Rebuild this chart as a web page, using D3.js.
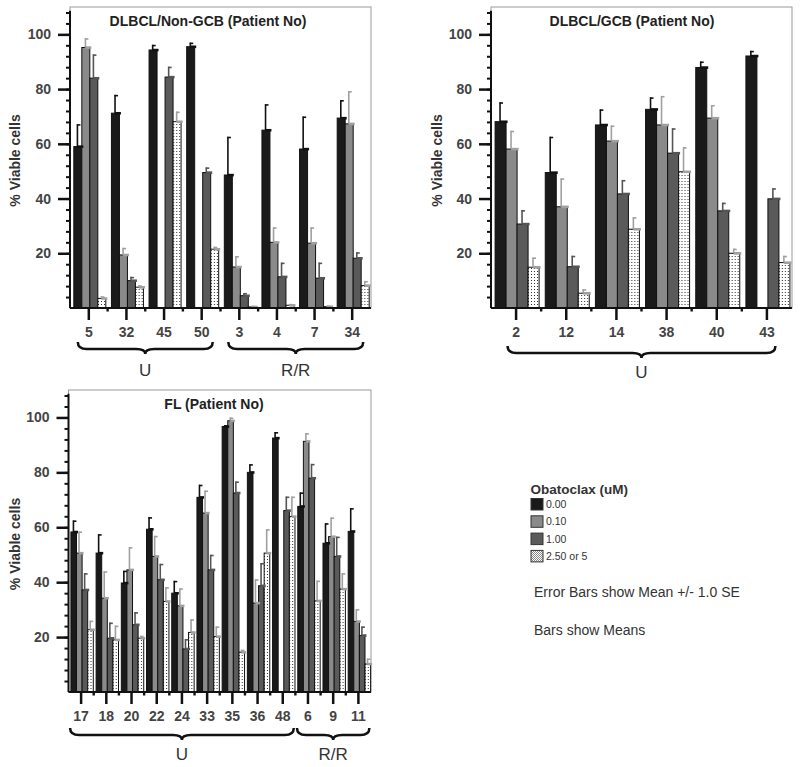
<!DOCTYPE html>
<html><head><meta charset="utf-8">
<script src="https://cdn.jsdelivr.net/npm/d3@7"></script>
<style>body{margin:0;background:#fff}svg text{font-family:"Liberation Sans",Arial,Helvetica,sans-serif}</style>
</head><body><svg id="c" width="800" height="767"></svg>
<script>
// ---------- DATA ----------
const seriesNames = ["0.00", "0.10", "1.00", "2.50 or 5"];
const yTickValues = [20, 40, 60, 80, 100];

// Panel 1: DLBCL/Non-GCB
const p1Categories = ["5", "32", "45", "50", "3", "4", "7", "34"];
const p1Mean = [
  [59, 95.2, 84, 3.5],
  [71.2, 19.4, 10, 7.6],
  [94.3, null, 84.4, 68.1],
  [95.5, null, 49.5, 21.5],
  [48.6, 15, 4.5, 0.4],
  [65, 24, 11.4, 1],
  [58.1, 23.7, 10.9, 0.5],
  [69.4, 67.3, 18.2, 8.2]
];
const p1Upper = [
  [67.2, 98.6, 92.7, 4.3],
  [77.9, 22, 11.4, 8.3],
  [96.2, null, 88.2, 71.8],
  [97, null, 51.4, 22.4],
  [62.6, 19, 5.5, 0.8],
  [74.5, 29.5, 16.6, 1.5],
  [70, 29.5, 16.6, 0.9],
  [76, 79.3, 20.4, 9.9]
];
const p1Groups = [["U", "5", "50"], ["R/R", "3", "34"]];

// Panel 2: DLBCL/GCB
const p2Categories = ["2", "12", "14", "38", "40", "43"];
const p2Mean = [
  [68.1, 58.1, 30.7, 14.9],
  [49.5, 37, 15.1, 5.4],
  [66.9, 61, 41.7, 28.8],
  [72.6, 66.9, 56.6, 49.8],
  [87.9, 69.4, 35.5, 20],
  [92.1, null, 39.9, 16.6]
];
const p2Upper = [
  [75.2, 64.8, 35.8, 18.5],
  [62.6, 47.4, 19.1, 6.9],
  [72.6, 66.7, 46.8, 33.2],
  [77, 77.5, 65.7, 58.8],
  [90.1, 74.2, 38.5, 21.7],
  [94, null, 43.8, 19.1]
];
const p2Groups = [["U", "2", "43"]];

// Panel 3: FL
const p3Categories = ["17", "18", "20", "22", "24", "33", "35", "36", "48", "6", "9", "11"];
const p3Mean = [
  [58.3, 50.6, 37.2, 22.7],
  [50.6, 34.2, 19.6, 19],
  [39.7, 44.5, 24.5, 19.6],
  [59.3, 49.4, 40.9, 33],
  [36, 31.4, 15.7, 21.7],
  [70.9, 65.2, 44.5, 20.2],
  [96.7, 98.8, 72.5, 14.5],
  [80, 32.4, 38.7, 50.6],
  [92.5, null, 66.1, 63.9],
  [67.6, 91.3, 77.9, 33.2],
  [54.2, 56.6, 49.4, 37.5],
  [58.5, 25.7, 20.6, 10.2]
];
const p3Upper = [
  [62.5, 58.5, 43.3, 26],
  [57.5, 44, 25.3, 24.2],
  [44.2, 52.8, 29.1, 20.5],
  [63.7, 56.9, 46.7, 38.2],
  [40.5, 37.8, 19.3, 26.5],
  [75.5, 73.4, 50, 23.9],
  [97.2, 100, 76.7, 15.4],
  [83, 41.1, 47, 59.3],
  [94.7, null, 71.2, 71.2],
  [72.7, 94.3, 83.1, 40.6],
  [61.5, 63.6, 56.6, 43.3],
  [67, 30.2, 23.9, 12.2]
];
const p3Groups = [["U", "17", "48"], ["R/R", "6", "11"]];

// ---------- STYLE / LAYOUT ----------
const fills = ["#1a1a1a", "#8a8a8a", "#5a5a5a", "url(#dots)"];
const errColors = ["#111", "#a0a0a0", "#555", "#a0a0a0"];
const FONT = '"Liberation Sans",Arial,Helvetica,sans-serif';

const svg = d3.select("#c");
const defs = svg.append("defs");
const pat = defs.append("pattern").attr("id", "dots").attr("patternUnits", "userSpaceOnUse")
  .attr("width", 3).attr("height", 3);
pat.append("rect").attr("width", 3).attr("height", 3).attr("fill", "#fff");
pat.append("rect").attr("x", 1).attr("y", 1).attr("width", 1).attr("height", 1).attr("fill", "#333");
const pat2 = defs.append("pattern").attr("id", "dotsL").attr("patternUnits", "userSpaceOnUse")
  .attr("width", 2).attr("height", 2);
pat2.append("rect").attr("width", 2).attr("height", 2).attr("fill", "#fff");
pat2.append("rect").attr("width", 1).attr("height", 1).attr("fill", "#888");
pat2.append("rect").attr("x", 1).attr("y", 1).attr("width", 1).attr("height", 1).attr("fill", "#888");

const panels = [
  { cats: p1Categories, mean: p1Mean, upper: p1Upper, groups: p1Groups,
    title: "DLBCL/Non-GCB (Patient No)", titleX: 208, titleY: 26,
    l: 70, t: 7, r: 371, b: 308, barW: 8, ylabX: 20, braceOff: 11, braceY: 342, groupY: 376 },
  { cats: p2Categories, mean: p2Mean, upper: p2Upper, groups: p2Groups,
    title: "DLBCL/GCB (Patient No)", titleX: 632, titleY: 26,
    l: 491, t: 7, r: 792, b: 308, barW: 11, ylabX: 442, braceOff: 8.5, braceY: 346, groupY: 378 },
  { cats: p3Categories, mean: p3Mean, upper: p3Upper, groups: p3Groups,
    title: "FL (Patient No)", titleX: 214, titleY: 409,
    l: 68.5, t: 390, r: 371, b: 692, barW: 5.6, ylabX: 20, braceOff: 11, braceY: 728, groupY: 760 }
];

panels.forEach(p => {
  const g = svg.append("g");
  const y = d3.scaleLinear().domain([0, 110]).range([p.b, p.t]);
  const x = d3.scaleBand().domain(p.cats).range([p.l, p.r]).paddingInner(0).paddingOuter(0);
  const step = x.bandwidth();
  const gw = p.barW * 4;
  const xs = d3.scaleBand().domain(d3.range(4)).range([(step - gw) / 2 + 1, (step + gw) / 2 + 1]);

  // frame
  g.append("rect").attr("x", p.l).attr("y", p.t).attr("width", p.r - p.l).attr("height", p.b - p.t)
    .attr("fill", "none").attr("stroke", "#999").attr("stroke-width", 1);

  // bars
  p.cats.forEach((c, i) => {
    const gg = g.append("g").attr("transform", `translate(${x(c)},0)`);
    p.mean[i].forEach((v, s) => {
      if (v == null) return;
      const bx = xs(s), w = xs.bandwidth();
      gg.append("rect").attr("x", bx).attr("y", y(v)).attr("width", w).attr("height", Math.max(0.5, y(0) - y(v)))
        .attr("fill", fills[s]).attr("stroke", "#111").attr("stroke-width", 1);
    });
    p.mean[i].forEach((v, s) => {
      if (v == null) return;
      const u = p.upper[i][s];
      const bx = xs(s), w = xs.bandwidth();
      const lx = bx + w * 0.45;
      const col = errColors[s];
      gg.append("line").attr("x1", lx).attr("x2", lx).attr("y1", y(v)).attr("y2", y(u))
        .attr("stroke", col).attr("stroke-width", 1.6);
      gg.append("line").attr("x1", lx - 0.5).attr("x2", lx + 3).attr("y1", y(u) + 0.8).attr("y2", y(u) + 0.8)
        .attr("stroke", col).attr("stroke-width", 1.6);
      gg.append("rect").attr("x", lx).attr("y", y(v) - 1.2).attr("width", bx + w + 1.5 - lx).attr("height", 2.6)
        .attr("fill", col);
    });
  });

  // y axis: minor then major
  const minorY = d3.range(4, 109, 4);
  const yMinor = g.append("g").attr("transform", `translate(${p.l},0)`)
    .call(d3.axisLeft(y).tickValues(minorY).tickSize(4).tickFormat(""));
  yMinor.select(".domain").remove();
  yMinor.selectAll("line").attr("stroke", "#111").attr("stroke-width", 2);
  const yAx = g.append("g").attr("transform", `translate(${p.l},0)`)
    .call(d3.axisLeft(y).tickValues(yTickValues).tickSize(12).tickPadding(7));
  yAx.select(".domain").remove();
  yAx.selectAll("line").attr("stroke", "#111").attr("stroke-width", 2.5);
  yAx.selectAll("text").attr("font-family", FONT).attr("font-size", 14).attr("font-weight", "bold").attr("fill", "#444");
  g.append("line").attr("x1", p.l).attr("x2", p.l).attr("y1", y(0)).attr("y2", y(108.6))
    .attr("stroke", "#111").attr("stroke-width", 2);

  // x axis
  const xAx = g.append("g").attr("transform", `translate(0,${p.b})`)
    .call(d3.axisBottom(x).tickSize(12).tickPadding(7));
  xAx.select(".domain").remove();
  xAx.selectAll("line").attr("stroke", "#111").attr("stroke-width", 2.5);
  xAx.selectAll("text").attr("font-family", FONT).attr("font-size", 14).attr("font-weight", "bold").attr("fill", "#444");
  g.append("line").attr("x1", p.l).attr("x2", p.r).attr("y1", p.b).attr("y2", p.b)
    .attr("stroke", "#111").attr("stroke-width", 2);
  p.cats.slice(1).forEach(c => {
    g.append("rect").attr("x", x(c) - 1.2).attr("y", p.b).attr("width", 2.4).attr("height", 3.5).attr("fill", "#111");
  });

  // titles
  g.append("text").attr("x", p.titleX).attr("y", p.titleY).attr("text-anchor", "middle")
    .attr("font-size", 14).attr("font-weight", "bold").attr("fill", "#222").text(p.title);
  g.append("text").attr("transform", `translate(${p.ylabX},${(p.t + p.b) / 2 + 3}) rotate(-90)`)
    .attr("text-anchor", "middle").attr("font-size", 14).attr("font-weight", "bold").attr("fill", "#333")
    .text("% Viable cells");

  // braces + group labels
  p.groups.forEach(([lab, a, z]) => {
    const x1 = x(a) + step / 2 - p.braceOff, x2 = x(z) + step / 2 + p.braceOff;
    const xm = (x1 + x2) / 2, y0 = p.braceY, ya = y0 + 7, yb = y0 + 12, r = 9;
    const path = `M${x1},${y0} Q${x1},${ya} ${x1 + r},${ya} L${xm - r},${ya} Q${xm},${ya} ${xm},${yb} Q${xm},${ya} ${xm + r},${ya} L${x2 - r},${ya} Q${x2},${ya} ${x2},${y0}`;
    g.append("path").attr("d", path).attr("fill", "none").attr("stroke", "#111").attr("stroke-width", 2.5);
    g.append("text").attr("x", xm).attr("y", p.groupY).attr("text-anchor", "middle")
      .attr("font-size", 17).attr("fill", "#333").text(lab);
  });
});

// ---------- LEGEND ----------
const lg = svg.append("g");
lg.append("text").attr("x", 530.5).attr("y", 493.5).attr("font-size", 13.5).attr("font-weight", "bold")
  .attr("fill", "#333").text("Obatoclax (uM)");
const legFills = ["#1a1a1a", "#8a8a8a", "#5a5a5a", "url(#dotsL)"];
seriesNames.forEach((n, i) => {
  const yy = 498.5 + i * 17.3;
  lg.append("rect").attr("x", 531).attr("y", yy).attr("width", 12).attr("height", 11.5)
    .attr("fill", legFills[i]).attr("stroke", "#333").attr("stroke-width", 1);
  lg.append("text").attr("x", 546).attr("y", yy + 9.5).attr("font-size", 10.5).attr("fill", "#333").text(n);
});
lg.append("text").attr("x", 534).attr("y", 597).attr("font-size", 14).attr("fill", "#333")
  .text("Error Bars show Mean +/- 1.0 SE");
lg.append("text").attr("x", 534).attr("y", 635).attr("font-size", 14).attr("fill", "#333")
  .text("Bars show Means");
</script></body></html>
